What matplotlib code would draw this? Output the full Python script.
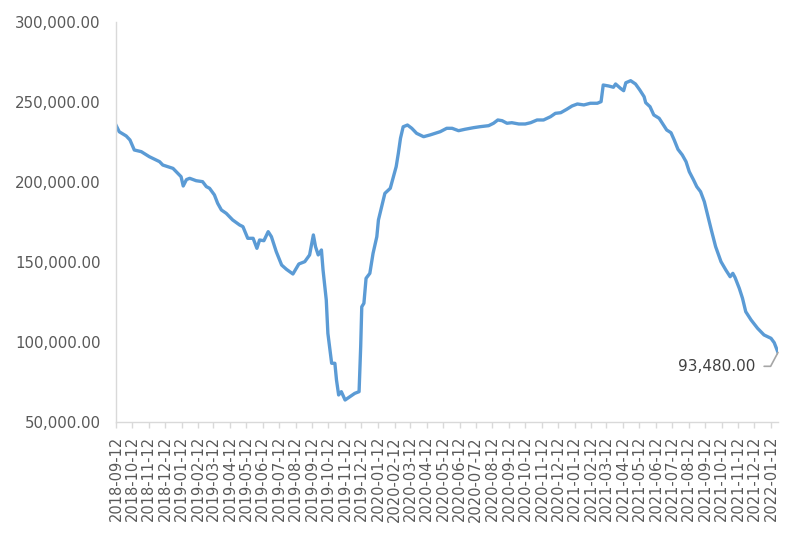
import matplotlib
matplotlib.use("Agg")
import matplotlib.pyplot as plt
import matplotlib.dates as mdates
import matplotlib.ticker as mticker
import pandas as pd

# values
dates = [
    "2018-09-12", "2018-09-18", "2018-10-01", "2018-10-08", "2018-10-16", "2018-10-29",
    "2018-11-13", "2018-12-02", "2018-12-08", "2018-12-27", "2019-01-05", "2019-01-11",
    "2019-01-15", "2019-01-21", "2019-01-27", "2019-02-08", "2019-02-20", "2019-02-27",
    "2019-03-05", "2019-03-14", "2019-03-20", "2019-03-27", "2019-04-05", "2019-04-17",
    "2019-04-30", "2019-05-06", "2019-05-15", "2019-05-25", "2019-06-01", "2019-06-06",
    "2019-06-14", "2019-06-22", "2019-06-28", "2019-07-07", "2019-07-17", "2019-07-26",
    "2019-08-07", "2019-08-18", "2019-08-29", "2019-09-07", "2019-09-14", "2019-09-18",
    "2019-09-23", "2019-09-29", "2019-10-02", "2019-10-08", "2019-10-11", "2019-10-18",
    "2019-10-24", "2019-10-27", "2019-10-31", "2019-11-05", "2019-11-12", "2019-11-21",
    "2019-11-30", "2019-12-08", "2019-12-11", "2019-12-13", "2019-12-17", "2019-12-21",
    "2019-12-28", "2020-01-03", "2020-01-10", "2020-01-13", "2020-01-19", "2020-01-25",
    "2020-02-04", "2020-02-09", "2020-02-15", "2020-02-19", "2020-02-23", "2020-02-28",
    "2020-03-07", "2020-03-15", "2020-03-24", "2020-04-06", "2020-04-18", "2020-05-07",
    "2020-05-19", "2020-05-29", "2020-06-10", "2020-06-22", "2020-07-08", "2020-07-20",
    "2020-08-05", "2020-08-14", "2020-08-22", "2020-08-30", "2020-09-08", "2020-09-17",
    "2020-09-30", "2020-10-12", "2020-10-22", "2020-11-03", "2020-11-15", "2020-11-28",
    "2020-12-07", "2020-12-17", "2020-12-28", "2021-01-07", "2021-01-17", "2021-01-29",
    "2021-02-10", "2021-02-23", "2021-03-02", "2021-03-06", "2021-03-16", "2021-03-25",
    "2021-03-29", "2021-04-07", "2021-04-13", "2021-04-17", "2021-04-26", "2021-05-05",
    "2021-05-13", "2021-05-21", "2021-05-24", "2021-06-01", "2021-06-08", "2021-06-18",
    "2021-06-24", "2021-07-02", "2021-07-10", "2021-07-16", "2021-07-23", "2021-07-31",
    "2021-08-07", "2021-08-13", "2021-08-21", "2021-08-27", "2021-09-03", "2021-09-10",
    "2021-09-16", "2021-09-23", "2021-10-01", "2021-10-11", "2021-10-20", "2021-10-28",
    "2021-11-02", "2021-11-06", "2021-11-14", "2021-11-20", "2021-11-26", "2021-12-06",
    "2021-12-18", "2021-12-30", "2022-01-12", "2022-01-18", "2022-01-25",
]
values = [
    235500, 231400, 228750, 226250, 220000, 218950,
    215800, 212700, 210600, 208500, 205400, 203300,
    197500, 201500, 202300, 200800, 200200, 197100,
    196050, 191900, 186700, 182500, 180400, 176250,
    173100, 172100, 164800, 164800, 158550, 163750,
    163300, 168950, 165800, 156450, 148100, 145400,
    142500, 148750, 150200, 154400, 166900, 159600,
    154400, 157500, 145000, 126250, 105400, 86700,
    86700, 76250, 66900, 68950, 63750, 65800,
    67900, 68950, 97050, 122000, 124200, 139800,
    142900, 155400, 165800, 176250, 184600, 192900,
    196050, 202300, 209600, 217900, 227300, 234500,
    235600, 233550, 230400, 228300, 229400, 231450,
    233550, 233550, 232050, 232950, 233950, 234560,
    235200, 236700, 238750, 238300, 236700, 237050,
    236250, 236250, 237050, 238750, 238750, 240800,
    242900, 243300, 245400, 247500, 248750, 248150,
    249200, 249200, 250200, 260600, 260000, 259200,
    261250, 258550, 257050, 262000, 263300, 261250,
    257500, 253300, 249560, 247060, 241900, 239800,
    236700, 232500, 230800, 226250, 220400, 216900,
    212700, 206450, 201250, 197050, 193950, 187700,
    179400, 170000, 159600, 150200, 145000, 140800,
    142900, 140400, 133550, 127300, 118950, 113750,
    108560, 104400, 102300, 99560, 93480,
]
last_label = "93,480.00"

x = pd.to_datetime(dates)

fig = plt.figure(figsize=(8, 5.36), dpi=100)
ax = fig.add_axes([0.145, 0.2127, 0.8275, 0.7463])

ax.plot(x, values, color="#5B9BD5", linewidth=2.4, solid_joinstyle="round")

ax.set_ylim(50000, 300000)
ax.set_xlim(x[0], x[-1])
ax.yaxis.set_major_locator(mticker.MultipleLocator(50000))
ax.yaxis.set_major_formatter(mticker.StrMethodFormatter("{x:,.2f}"))

ax.xaxis.set_major_locator(mdates.MonthLocator(bymonthday=12))
ax.xaxis.set_major_formatter(mdates.DateFormatter("%Y-%m-%d"))
plt.setp(ax.get_xticklabels(), rotation=90, ha="center", va="top")

for side in ["top", "right"]:
    ax.spines[side].set_visible(False)
for side in ["left", "bottom"]:
    ax.spines[side].set_color("#D9D9D9")
    ax.spines[side].set_linewidth(1.0)

ax.tick_params(axis="y", length=0, pad=11, labelsize=10.8, labelcolor="#595959")
ax.tick_params(axis="x", length=4, width=1, color="#D9D9D9", pad=6,
               labelsize=10.5, labelcolor="#595959")

ax.annotate(last_label, xy=(x[-1], values[-1]), xytext=(-16, -10),
            textcoords="offset points", ha="right", va="center",
            fontsize=11, color="#404040",
            arrowprops=dict(arrowstyle="-", color="#A6A6A6", lw=1.2,
                            shrinkA=4, shrinkB=0, relpos=(1, 0.5),
                            connectionstyle="angle,angleA=0,angleB=62,rad=0"))

fig.savefig("out.png", dpi=100)
